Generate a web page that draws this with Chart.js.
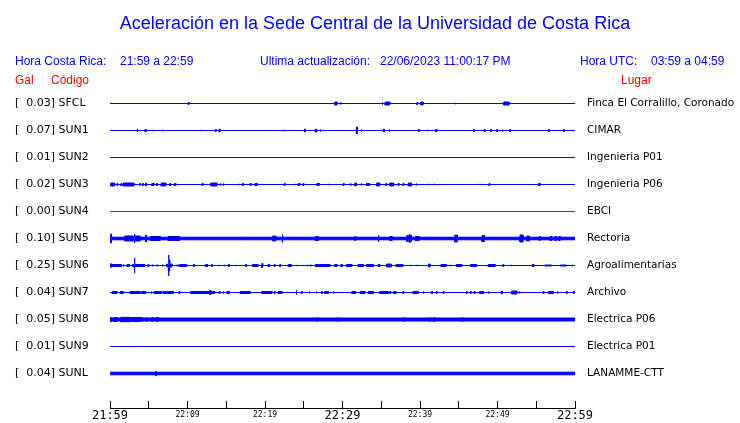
<!DOCTYPE html>
<html>
<head>
<meta charset="utf-8">
<script src="https://cdn.jsdelivr.net/npm/chart.js@4.4.1/dist/chart.umd.min.js"></script>
<style>
  html, body { margin: 0; padding: 0; background: #fff; }
  #wrap { width: 740px; height: 423px; }
</style>
</head>
<body>
<div id="wrap"><canvas id="sismo" width="740" height="423"></canvas></div>
<script>
// Stations, top to bottom
const stationCodes = ['SFCL', 'SUN1', 'SUN2', 'SUN3', 'SUN4', 'SUN5', 'SUN6', 'SUN7', 'SUN8', 'SUN9', 'SUNL'];
const galValues = [0.03, 0.07, 0.01, 0.02, 0.00, 0.10, 0.25, 0.04, 0.05, 0.01, 0.04];
const places = ['Finca El Corralillo, Coronado', 'CIMAR', 'Ingenieria P01', 'Ingenieria P06', 'EBCI',
  'Rectoria', 'Agroalimentarias', 'Archivo', 'Electrica P06', 'Electrica P01', 'LANAMME-CTT'];

// background noise level of each trace (half height)
const noiseFloor = [0, 0, 0, 0, 0, 1.8, 0, 0, 2, 0, 1.8];

// minutes after 21:59 -> [minute, amplitude] spikes or [from, to, amplitude] bursts
const sfclEvents = [[10.1, 1.5], [29.0, 29.3, 2], [29.7, 1.5], [35.1, 1.5], [35.5, 36.1, 2], [39.6, 1.5],
  [40.1, 40.4, 2], [44.5, 1], [50.8, 51.5, 2]];
const sun1Events = [[3.5, 2], [4.5, 4.7, 1.5], [5.5, 1], [6.7, 1], [11.8, 1], [13.6, 1.5], [14.1, 2], [22.2, 1],
  [22.5, 1], [25.1, 2], [26.5, 2], [26.7, 1], [27.1, 1.5], [31.8, 4], [32.4, 1.5], [35.3, 2], [36.0, 1.5],
  [39.8, 1.5], [40.9, 1], [42.0, 42.2, 1.5], [46.9, 1.5], [48.3, 1.5], [49.1, 1.5], [49.9, 50.0, 1.5],
  [50.6, 1.5], [51.6, 1.5], [56.6, 1.5], [58.5, 1.5]];
const sun2Events = [];
const sun3Events = [[0.1, 0.6, 2], [0.9, 1.5], [1.4, 1.5], [1.7, 3.1, 2], [3.8, 1.5], [4.2, 1.5], [4.6, 4.7, 2],
  [5.4, 5.7, 1.5], [6.0, 1.5], [6.6, 7.2, 2], [7.7, 1.5], [8.3, 1.5], [8.5, 1], [8.8, 1], [11.9, 1.5],
  [13.0, 13.8, 2], [14.2, 1.5], [14.6, 1.5], [16.6, 1], [17.1, 1.5], [18.1, 1.5], [18.7, 19.0, 1.5],
  [22.5, 1.5], [23.8, 1], [24.3, 24.5, 1.5], [24.9, 1.5], [25.7, 1], [26.7, 27.0, 1.5], [28.2, 1],
  [30.1, 1.5], [30.9, 31.2, 1], [31.6, 31.8, 2], [32.4, 1.5], [33.1, 33.5, 1.5], [34.4, 34.8, 2],
  [35.6, 1.5], [36.1, 36.6, 2], [37.2, 1.5], [37.8, 1.5], [38.5, 38.9, 2], [39.5, 1.5], [41.1, 1],
  [41.8, 1], [47.7, 1], [48.9, 1.5], [55.3, 55.5, 1.5]];
const sun4Events = [];
const sun5Events = [[0.1, 5], [1.9, 3.0, 3], [3.1, 5], [3.2, 3.9, 3], [4.6, 4], [5.2, 6.5, 2.5], [7.5, 9.0, 2.5],
  [17.0, 2], [21.0, 21.4, 3], [22.2, 4.5], [26.5, 26.9, 2.5], [31.6, 2.5], [34.6, 4], [36.1, 36.4, 2.5],
  [38.3, 38.5, 3.5], [38.6, 5], [38.7, 38.9, 3.5], [39.4, 39.9, 2.5], [41.2, 2], [42.6, 2],
  [44.5, 44.8, 4], [48.0, 48.3, 3.5], [52.9, 53.3, 4], [53.8, 54.1, 3], [55.4, 2.5],
  [56.8, 57.0, 2.5], [57.4, 57.6, 2.5], [57.9, 58.1, 2.5]];
const sun6Events = [[0.0, 0.3, 2], [0.4, 1.5, 1.5], [1.7, 1.5], [2.2, 2.5, 1.5], [2.9, 3.0, 1.5], [3.1, 8],
  [3.2, 4.5, 1.5], [4.9, 1.5], [5.4, 5.6, 1], [6.0, 6.2, 1], [6.7, 6.9, 1], [7.3, 7.4, 2], [7.5, 11],
  [7.6, 7.7, 6], [7.8, 8.0, 2], [8.6, 8.9, 1], [9.0, 9.9, 1.5], [10.8, 1.5], [12.3, 12.6, 1.5], [13.1, 1.5],
  [14.0, 1], [14.7, 1], [15.3, 1.5], [16.2, 1], [17.5, 1.5], [18.4, 19.1, 1.5], [19.6, 2.5],
  [20.4, 20.6, 1.5], [21.2, 1.5], [21.9, 1.5], [23.0, 23.4, 1.5], [24.1, 1], [24.8, 1], [25.4, 1],
  [25.8, 26.0, 1], [26.5, 28.4, 1.5], [29.0, 29.3, 1.5], [29.8, 30.0, 1.5], [30.5, 31.2, 1.5],
  [32.0, 32.7, 1.5], [33.1, 34.0, 1.5], [34.6, 34.8, 1.5], [35.7, 36.3, 2], [36.9, 37.8, 1.5], [38.7, 1],
  [39.6, 1], [41.1, 41.3, 2], [42.2, 1], [42.7, 43.4, 1.5], [43.9, 1], [44.7, 45.4, 1.5], [46.5, 47.3, 1.5],
  [48.8, 49.7, 1.5], [50.7, 1.5], [51.7, 1], [54.5, 54.7, 1.5], [56.1, 57.0, 1], [58.1, 58.9, 1], [59.6, 1]];
const sun7Events = [[0.3, 0.9, 1.5], [1.3, 1.7, 1.5], [2.6, 3.9, 1.5], [4.1, 4.6, 1.5], [5.3, 1.5],
  [5.7, 6.7, 1.5], [6.9, 8.2, 1.5], [8.9, 1.5], [10.4, 12.8, 1.5], [12.9, 2.5], [13.0, 13.5, 1.5],
  [14.1, 1.5], [14.6, 1.5], [15.1, 15.4, 1.5], [16.8, 18.1, 1.5], [19.6, 20.9, 1.5], [21.2, 1.5],
  [21.7, 22.2, 1.5], [24.0, 2.5], [24.7, 1.5], [25.7, 1.5], [26.6, 1.5], [27.3, 1.5], [27.7, 28.2, 1.5],
  [28.8, 1.5], [31.2, 31.7, 1.5], [32.3, 32.9, 1.5], [33.3, 34.0, 1.5], [34.8, 35.9, 1.5], [36.1, 1.5],
  [36.6, 36.9, 1.5], [37.8, 1.5], [39.1, 39.8, 1.5], [40.4, 1.5], [41.5, 1.5], [42.1, 1.5], [43.0, 1.5],
  [46.0, 1.5], [46.5, 1.5], [47.0, 1.5], [47.7, 48.2, 1.5], [48.8, 1.5], [50.5, 2], [51.8, 52.5, 2],
  [52.8, 1.5], [55.9, 1.5], [56.6, 57.2, 1.5], [57.7, 1.5], [58.9, 1.5], [59.8, 1.5]];
const sun8Events = [[0.1, 2.5], [0.5, 0.9, 2.5], [1.4, 2.6, 2.7], [2.8, 4.1, 2.5], [4.7, 2.3], [5.4, 2.5],
  [5.9, 2.5], [6.1, 2.5], [26.7, 2.3], [29.3, 2.7], [37.9, 2.3], [41.2, 2.3], [41.8, 2.5], [45.4, 2.3]];
const sun9Events = [[3.1, 1]];
const sunlEvents = [[5.9, 2.7]];

const stationEvents = [sfclEvents, sun1Events, sun2Events, sun3Events, sun4Events, sun5Events,
  sun6Events, sun7Events, sun8Events, sun9Events, sunlEvents];

// time axis, one tick every 5 minutes
const xTickLabels = ['21:59', '', '22:09', '', '22:19', '', '22:29', '', '22:39', '', '22:49', '', '22:59'];
const xTickMinutes = [0, 5, 10, 15, 20, 25, 30, 35, 40, 45, 50, 55, 60];
const bigTicks = ['21:59', '22:29', '22:59'];

const BLUE = 'rgb(0,0,255)';
const RED = 'rgb(255,0,0)';
const traceColors = stationCodes.map(c => c === 'SUN4' ? RED : BLUE);
const AMP = 1 / 27;       // amplitude counts -> row units
const SPIKE_WIDTH = 0.1;  // minutes, so single spikes stay visible

// Build upper / lower envelope of a trace (half a stroke is taken off so the
// visible height matches the amplitude)
function envelope(row, base, events, sign) {
    const off = a => row + sign * Math.max(a - 0.5, 0) * AMP;
    const pts = [{ x: 0, y: off(base) }];
    events.forEach(ev => {
        const s = ev[0];
        const e = ev.length === 3 ? ev[1] : ev[0] + SPIKE_WIDTH;
        const a = ev[ev.length - 1];
        pts.push({ x: s, y: off(base) });
        pts.push({ x: s, y: off(a) });
        pts.push({ x: e, y: off(a) });
        pts.push({ x: e, y: off(base) });
    });
    pts.push({ x: 60, y: off(base) });
    return pts;
}

const datasets = [];
stationCodes.forEach((code, i) => {
    const common = {
        borderColor: traceColors[i],
        backgroundColor: traceColors[i],
        borderWidth: 1,
        pointRadius: 0,
        tension: 0
    };
    datasets.push({ ...common, label: code + ' +', data: envelope(i, noiseFloor[i], stationEvents[i], -1), fill: '+1' });
    datasets.push({ ...common, label: code + ' -', data: envelope(i, noiseFloor[i], stationEvents[i], 1), fill: false });
});

const leftLabels = stationCodes.map((c, i) => `[  ${galValues[i].toFixed(2)}] ${c}`);

// header texts and the time axis line
const headerPlugin = {
    id: 'header',
    afterDraw(chart) {
        const ctx = chart.ctx;
        ctx.save();
        ctx.textBaseline = 'alphabetic';
        ctx.fillStyle = BLUE;
        ctx.textAlign = 'center';
        ctx.font = '18px "Liberation Sans"';
        ctx.fillText('Aceleración en la Sede Central de la Universidad de Costa Rica', 375, 29);
        ctx.textAlign = 'left';
        ctx.font = '12px "Liberation Sans"';
        ctx.fillText('Hora Costa Rica:', 15, 65);
        ctx.fillText('21:59 a 22:59', 120, 65);
        ctx.fillText('Ultima actualización:', 260, 65);
        ctx.fillText('22/06/2023 11:00:17 PM', 380, 65);
        ctx.fillText('Hora UTC:', 580, 65);
        ctx.fillText('03:59 a 04:59', 651, 65);
        ctx.fillStyle = RED;
        ctx.fillText('Gal', 15, 84);
        ctx.fillText('Código', 51, 84);
        ctx.fillText('Lugar', 621, 84);

        const xs = chart.scales.x;
        ctx.strokeStyle = '#000';
        ctx.lineWidth = 1;
        ctx.beginPath();
        ctx.moveTo(xs.left, xs.top + 8);
        ctx.lineTo(xs.right + 0.5, xs.top + 8);
        ctx.stroke();
        ctx.restore();
    }
};

const rowTicks = scale => { scale.ticks = stationCodes.map((_, i) => ({ value: i })); };

new Chart(document.getElementById('sismo'), {
    type: 'line',
    data: { datasets },
    plugins: [headerPlugin],
    options: {
        responsive: false,
        animation: false,
        events: [],
        layout: { padding: { left: 15, right: 0, top: 90, bottom: 0 } },
        plugins: { legend: { display: false }, tooltip: { enabled: false }, title: { display: false } },
        scales: {
            x: {
                type: 'linear',
                min: 0,
                max: 60,
                afterBuildTicks: s => { s.ticks = xTickMinutes.map(v => ({ value: v })); },
                afterFit: s => { s.height = 22.5; },
                border: { display: false },
                grid: { drawOnChartArea: false, drawTicks: true, tickLength: 8, color: '#000', lineWidth: 1 },
                ticks: {
                    autoSkip: false,
                    maxRotation: 0,
                    padding: 0.5,
                    color: '#000',
                    callback: (v, i) => xTickLabels[i],
                    font: ctx => bigTicks.includes(xTickLabels[ctx.index])
                        ? { family: '"DejaVu Sans Mono"', size: 12 }
                        : { family: '"DejaVu Sans Mono"', size: 8, lineHeight: 1.5 }
                }
            },
            y: {
                type: 'linear',
                position: 'left',
                min: -0.5,
                max: 11,
                reverse: true,
                afterBuildTicks: rowTicks,
                afterFit: s => { s.width = 95; },
                border: { display: false },
                grid: { display: false, drawTicks: false },
                ticks: {
                    autoSkip: false,
                    crossAlign: 'far',
                    padding: 0,
                    color: '#000',
                    font: { family: '"DejaVu Sans"', size: 11 },
                    callback: (v, i) => leftLabels[i]
                }
            },
            y2: {
                type: 'linear',
                position: 'right',
                min: -0.5,
                max: 11,
                reverse: true,
                afterBuildTicks: rowTicks,
                afterFit: s => { s.width = 165; },
                border: { display: false },
                grid: { display: false, drawTicks: false },
                ticks: {
                    autoSkip: false,
                    padding: 12,
                    color: '#000',
                    font: { family: '"DejaVu Sans"', size: 10.5 },
                    callback: (v, i) => places[i]
                }
            }
        }
    }
});
</script>
</body>
</html>
